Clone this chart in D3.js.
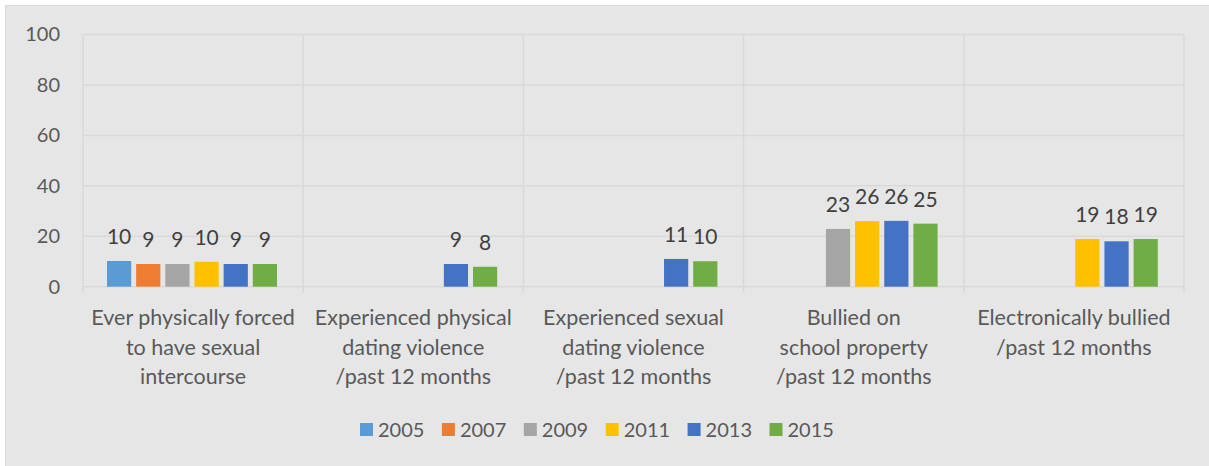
<!DOCTYPE html>
<html>
<head>
<meta charset="utf-8">
<script src="https://cdn.jsdelivr.net/npm/d3@7"></script>
<style>
  body { margin: 0; background: #fff; }
  svg { display: block; font-family: Lato, "Open Sans", sans-serif; }
</style>
</head>
<body>
<script>
var w = 1209, h = 466;

// categories (wrapped the way the original shows them)
var categories = [
    ['Ever physically forced', 'to have sexual', 'intercourse'],
    ['Experienced physical', 'dating violence', '/past 12 months'],
    ['Experienced sexual', 'dating violence', '/past 12 months'],
    ['Bullied on', 'school property', '/past 12 months'],
    ['Electronically bullied', '/past 12 months']
];
var years = ['2005', '2007', '2009', '2011', '2013', '2015'];
var colors = ['#5B9BD5', '#ED7D31', '#A5A5A5', '#FFC000', '#4472C4', '#70AD47'];

// one value per category, null = not surveyed
var v2005 = [10.2, null, null, null, null];
var v2007 = [9.0, null, null, null, null];
var v2009 = [9.0, null, null, 22.9, null];
var v2011 = [9.9, null, null, 26.0, 18.9];
var v2013 = [9.0, 9.0, 11.0, 26.1, 18.0];
var v2015 = [9.0, 7.9, 10.1, 25.0, 18.9];
var yTicks = [0, 20, 40, 60, 80, 100];

var series = [v2005, v2007, v2009, v2011, v2013, v2015];

var svg = d3.select('body').append('svg').attr('width', w).attr('height', h);

// chart area
svg.append('rect')
    .attr('x', 5.5).attr('y', 5.5)
    .attr('width', w).attr('height', h)
    .attr('fill', '#e6e6e6')
    .attr('stroke', '#d9d9d9');

var x0 = d3.scaleBand().domain(d3.range(categories.length)).range([83, 1184]);
var x1 = d3.scaleBand().domain(years).range([24, 194]).paddingInner(0.17);
var y = d3.scaleLinear().domain([0, 100]).range([286.7, 34.5]);

// horizontal gridlines
svg.append('g').selectAll('line').data(yTicks).enter()
    .append('line')
    .attr('x1', 83).attr('x2', 1184)
    .attr('y1', function(d){ return y(d); })
    .attr('y2', function(d){ return y(d); })
    .attr('stroke', '#d9d9d9').attr('stroke-width', 1.5);

// vertical category dividers
var edges = d3.range(categories.length).map(function(i){ return x0(i); }).concat([x0.range()[1]]);
svg.append('g').selectAll('line').data(edges).enter()
    .append('line')
    .attr('x1', function(d){ return d; }).attr('x2', function(d){ return d; })
    .attr('y1', y(100)).attr('y2', 293)
    .attr('stroke', '#d9d9d9').attr('stroke-width', 1.5);

// y axis labels
var yAxis = svg.append('g').attr('transform', 'translate(60,0)')
    .call(d3.axisLeft(y).tickValues(yTicks).tickSize(0).tickPadding(0));
yAxis.select('.domain').remove();
yAxis.selectAll('text')
    .attr('fill', '#595959')
    .style('font-size', '20px')
    .style('font-family', 'Lato, "Open Sans", sans-serif');

// bars + labels
years.forEach(function(yr, s){
    var pts = series[s].map(function(v, i){ return {i: i, v: v}; })
        .filter(function(d){ return d.v != null; });
    var g = svg.append('g');
    g.selectAll('rect').data(pts).enter()
        .append('rect')
        .attr('x', function(d){ return x0(d.i) + x1(yr); })
        .attr('y', function(d){ return y(d.v); })
        .attr('width', x1.bandwidth())
        .attr('height', function(d){ return y(0) - y(d.v); })
        .attr('fill', colors[s]);
    g.selectAll('text').data(pts).enter()
        .append('text')
        .attr('x', function(d){ return x0(d.i) + x1(yr) + x1.bandwidth() / 2; })
        .attr('y', function(d){ return y(d.v) - 17; })
        .attr('text-anchor', 'middle')
        .attr('fill', '#404040')
        .style('font-size', '21px')
        .text(function(d){ return Math.round(d.v); });
});

// category labels
var cat = svg.append('g').selectAll('text').data(categories).enter()
    .append('text')
    .attr('text-anchor', 'middle')
    .attr('fill', '#595959')
    .style('font-size', '21.5px');
cat.each(function(lines, i){
    d3.select(this).selectAll('tspan').data(lines).enter()
        .append('tspan')
        .attr('x', x0(i) + x0.bandwidth() / 2)
        .attr('y', function(d, k){ return 325 + k * 29.5; })
        .text(function(d){ return d; });
});

// legend
var leg = svg.append('g').selectAll('g').data(years).enter()
    .append('g')
    .attr('transform', function(d, i){ return 'translate(' + (360 + i * 81.9) + ',0)'; });
leg.append('rect')
    .attr('x', 0).attr('y', 423)
    .attr('width', 13).attr('height', 13)
    .attr('fill', function(d, i){ return colors[i]; });
leg.append('text')
    .attr('x', 18).attr('y', 437)
    .attr('fill', '#595959')
    .style('font-size', '20px')
    .text(function(d){ return d; });
</script>
</body>
</html>
